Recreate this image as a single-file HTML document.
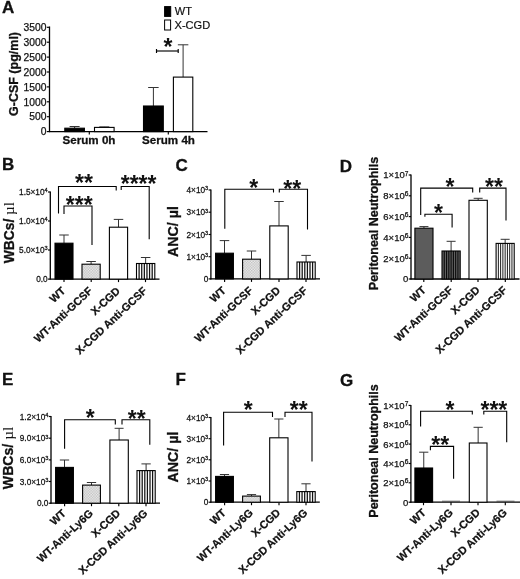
<!DOCTYPE html>
<html>
<head>
<meta charset="utf-8">
<title>Figure</title>
<style>
html, body { margin: 0; padding: 0; background: #fff; }
body { width: 520px; height: 579px; overflow: hidden; font-family: "Liberation Sans", sans-serif; }
svg { display: block; will-change: transform; }
svg text { font-family: "Liberation Sans", sans-serif; fill: #111; }
</style>
</head>
<body>
<svg width="520" height="579" viewBox="0 0 520 579">
<defs>
<pattern id="dots" width="2.7" height="2.7" patternUnits="userSpaceOnUse">
<rect width="2.7" height="2.7" fill="#f0f0f0"/>
<rect width="1.35" height="1.35" fill="#bdbdbd"/>
<rect x="1.35" y="1.35" width="1.35" height="1.35" fill="#bdbdbd"/>
</pattern>
<pattern id="vs" width="2.5" height="4" patternUnits="userSpaceOnUse">
<rect width="2.5" height="4" fill="#fff"/>
<rect x="0.6" width="1.3" height="4" fill="#151515"/>
</pattern>
<pattern id="vs2" width="2.1" height="4" patternUnits="userSpaceOnUse">
<rect width="2.1" height="4" fill="#fff"/>
<rect x="0.5" width="0.75" height="4" fill="#222"/>
</pattern>
<pattern id="vsd" width="2.3" height="4" patternUnits="userSpaceOnUse">
<rect width="2.3" height="4" fill="#666"/>
<rect x="0.8" width="1" height="4" fill="#222"/>
</pattern>
</defs>
<rect width="520" height="579" fill="#fff"/>
<text x="2" y="13.3" font-size="17" font-weight="700" text-anchor="start" stroke="#111" stroke-width="0.3">A</text>
<line x1="49.5" y1="26.5" x2="49.5" y2="132.1" stroke="#000" stroke-width="1.3"/>
<line x1="46.8" y1="27.3" x2="49.5" y2="27.3" stroke="#000" stroke-width="1.15"/>
<text x="46.5" y="31.01" font-size="10.3" text-anchor="end" stroke="#111" stroke-width="0.25">3500</text>
<line x1="46.8" y1="42.2" x2="49.5" y2="42.2" stroke="#000" stroke-width="1.15"/>
<text x="46.5" y="45.91" font-size="10.3" text-anchor="end" stroke="#111" stroke-width="0.25">3000</text>
<line x1="46.8" y1="57.1" x2="49.5" y2="57.1" stroke="#000" stroke-width="1.15"/>
<text x="46.5" y="60.81" font-size="10.3" text-anchor="end" stroke="#111" stroke-width="0.25">2500</text>
<line x1="46.8" y1="72" x2="49.5" y2="72" stroke="#000" stroke-width="1.15"/>
<text x="46.5" y="75.71" font-size="10.3" text-anchor="end" stroke="#111" stroke-width="0.25">2000</text>
<line x1="46.8" y1="86.9" x2="49.5" y2="86.9" stroke="#000" stroke-width="1.15"/>
<text x="46.5" y="90.61" font-size="10.3" text-anchor="end" stroke="#111" stroke-width="0.25">1500</text>
<line x1="46.8" y1="101.8" x2="49.5" y2="101.8" stroke="#000" stroke-width="1.15"/>
<text x="46.5" y="105.51" font-size="10.3" text-anchor="end" stroke="#111" stroke-width="0.25">1000</text>
<line x1="46.8" y1="116.7" x2="49.5" y2="116.7" stroke="#000" stroke-width="1.15"/>
<text x="46.5" y="120.41" font-size="10.3" text-anchor="end" stroke="#111" stroke-width="0.25">500</text>
<line x1="46.8" y1="131.6" x2="49.5" y2="131.6" stroke="#000" stroke-width="1.15"/>
<text x="46.5" y="135.31" font-size="10.3" text-anchor="end" stroke="#111" stroke-width="0.25">0</text>
<text transform="translate(17.5,74) rotate(-90)" font-size="12.5" font-weight="700" text-anchor="middle" stroke="#111" stroke-width="0.3">G-CSF (pg/ml)</text>
<line x1="49" y1="131.6" x2="207.5" y2="131.6" stroke="#000" stroke-width="1.3"/>
<line x1="89.3" y1="131.6" x2="89.3" y2="134.6" stroke="#000" stroke-width="1.15"/>
<line x1="168.3" y1="131.6" x2="168.3" y2="134.6" stroke="#000" stroke-width="1.15"/>
<line x1="74.6" y1="126.5" x2="74.6" y2="128.2" stroke="#333" stroke-width="1.0"/>
<line x1="69.6" y1="126.5" x2="79.6" y2="126.5" stroke="#333" stroke-width="1.0"/>
<rect x="64.8" y="128.2" width="19.6" height="3.4" fill="#000" stroke="none"/>
<rect x="64.8" y="128.2" width="19.6" height="3.4" fill="none" stroke="#000" stroke-width="1.1"/>
<line x1="104.3" y1="126.9" x2="104.3" y2="127.4" stroke="#333" stroke-width="1.0"/>
<line x1="99.3" y1="126.9" x2="109.3" y2="126.9" stroke="#333" stroke-width="1.0"/>
<rect x="94.5" y="127.4" width="19.6" height="4.2" fill="#fff" stroke="none"/>
<rect x="94.5" y="127.4" width="19.6" height="4.2" fill="none" stroke="#000" stroke-width="1.1"/>
<line x1="153.4" y1="87.5" x2="153.4" y2="106" stroke="#333" stroke-width="1.0"/>
<line x1="148.15" y1="87.5" x2="158.65" y2="87.5" stroke="#333" stroke-width="1.0"/>
<rect x="143.5" y="106" width="19.8" height="25.6" fill="#000" stroke="none"/>
<rect x="143.5" y="106" width="19.8" height="25.6" fill="none" stroke="#000" stroke-width="1.1"/>
<line x1="183.1" y1="44.8" x2="183.1" y2="77.1" stroke="#333" stroke-width="1.0"/>
<line x1="177.85" y1="44.8" x2="188.35" y2="44.8" stroke="#333" stroke-width="1.0"/>
<rect x="173.4" y="77.1" width="19.4" height="54.5" fill="#fff" stroke="none"/>
<rect x="173.4" y="77.1" width="19.4" height="54.5" fill="none" stroke="#000" stroke-width="1.1"/>
<text x="89" y="144.3" font-size="11.6" font-weight="700" text-anchor="middle" stroke="#111" stroke-width="0.3">Serum 0h</text>
<text x="168.5" y="144.3" font-size="11.6" font-weight="700" text-anchor="middle" stroke="#111" stroke-width="0.3">Serum 4h</text>
<rect x="164.6" y="6.6" width="6.1" height="9.8" fill="#000" stroke="#000"/>
<rect x="164.6" y="20" width="6" height="10" fill="#fff" stroke="#000"/>
<text x="174.8" y="14.9" font-size="11" text-anchor="start" stroke="#111" stroke-width="0.2">WT</text>
<text x="174.5" y="28.8" font-size="11.1" text-anchor="start" stroke="#111" stroke-width="0.2">X-CGD</text>
<line x1="156.5" y1="51" x2="178.2" y2="51" stroke="#000" stroke-width="1.15"/>
<line x1="156.5" y1="49" x2="156.5" y2="53" stroke="#000" stroke-width="1.15"/>
<line x1="178.2" y1="49" x2="178.2" y2="53" stroke="#000" stroke-width="1.15"/>
<text x="168" y="54.5" font-size="23" font-weight="700" text-anchor="middle">*</text>
<text x="2" y="169.5" font-size="17" font-weight="700" text-anchor="start" stroke="#111" stroke-width="0.3">B</text>
<line x1="50.3" y1="191.5" x2="50.3" y2="279.6" stroke="#000" stroke-width="1.3"/>
<line x1="48" y1="192" x2="50.3" y2="192" stroke="#000" stroke-width="1.15"/>
<g transform="translate(47.7,195.13) scale(0.95,1)"><text font-size="8.7" text-anchor="end" stroke="#111" stroke-width="0.25">1.5×10<tspan dy="-2.8" font-size="6.0">4</tspan></text></g>
<line x1="48" y1="221" x2="50.3" y2="221" stroke="#000" stroke-width="1.15"/>
<g transform="translate(47.7,224.13) scale(0.95,1)"><text font-size="8.7" text-anchor="end" stroke="#111" stroke-width="0.25">1.0×10<tspan dy="-2.8" font-size="6.0">4</tspan></text></g>
<line x1="48" y1="250" x2="50.3" y2="250" stroke="#000" stroke-width="1.15"/>
<g transform="translate(47.7,253.13) scale(0.95,1)"><text font-size="8.7" text-anchor="end" stroke="#111" stroke-width="0.25">5.0×10<tspan dy="-2.8" font-size="6.0">3</tspan></text></g>
<line x1="48" y1="279.1" x2="50.3" y2="279.1" stroke="#000" stroke-width="1.15"/>
<g transform="translate(47.7,282.23) scale(0.95,1)"><text font-size="8.7" text-anchor="end" stroke="#111" stroke-width="0.25">0.0</text></g>
<text transform="translate(13.6,232.7) rotate(-90)" font-size="13.8" font-weight="700" text-anchor="middle" stroke="#111" stroke-width="0.3">WBCs/ <tspan font-family="Liberation Serif" font-weight="400" stroke="none" font-size="15">µl</tspan></text>
<line x1="49.8" y1="279.1" x2="159.5" y2="279.1" stroke="#000" stroke-width="1.3"/>
<line x1="64" y1="279.1" x2="64" y2="282.1" stroke="#000" stroke-width="1.15"/>
<line x1="91.2" y1="279.1" x2="91.2" y2="282.1" stroke="#000" stroke-width="1.15"/>
<line x1="118.5" y1="279.1" x2="118.5" y2="282.1" stroke="#000" stroke-width="1.15"/>
<line x1="145.5" y1="279.1" x2="145.5" y2="282.1" stroke="#000" stroke-width="1.15"/>
<line x1="64" y1="235" x2="64" y2="243.2" stroke="#333" stroke-width="1.0"/>
<line x1="59.25" y1="235" x2="68.75" y2="235" stroke="#333" stroke-width="1.0"/>
<rect x="55" y="243.2" width="18" height="35.9" fill="#000" stroke="none"/>
<rect x="55" y="243.2" width="18" height="35.9" fill="none" stroke="#000" stroke-width="1.1"/>
<line x1="91.1" y1="261.5" x2="91.1" y2="264.2" stroke="#333" stroke-width="1.0"/>
<line x1="86.35" y1="261.5" x2="95.85" y2="261.5" stroke="#333" stroke-width="1.0"/>
<rect x="82" y="264.2" width="18.2" height="14.9" fill="url(#dots)" stroke="none"/>
<rect x="82" y="264.2" width="18.2" height="14.9" fill="none" stroke="#000" stroke-width="1.1"/>
<line x1="118.5" y1="219.4" x2="118.5" y2="227.2" stroke="#333" stroke-width="1.0"/>
<line x1="113.75" y1="219.4" x2="123.25" y2="219.4" stroke="#333" stroke-width="1.0"/>
<rect x="109.4" y="227.2" width="18.2" height="51.9" fill="#fff" stroke="none"/>
<rect x="109.4" y="227.2" width="18.2" height="51.9" fill="none" stroke="#000" stroke-width="1.1"/>
<line x1="145.65" y1="257.5" x2="145.65" y2="263.5" stroke="#333" stroke-width="1.0"/>
<line x1="140.9" y1="257.5" x2="150.4" y2="257.5" stroke="#333" stroke-width="1.0"/>
<rect x="136.5" y="263.5" width="18.3" height="15.6" fill="#fff" stroke="none"/>
<path d="M139.11 263.5V279.1M141.73 263.5V279.1M144.34 263.5V279.1M146.96 263.5V279.1M149.57 263.5V279.1M152.19 263.5V279.1" stroke="#111" stroke-width="1.25" fill="none"/>
<rect x="136.5" y="263.5" width="18.3" height="15.6" fill="none" stroke="#000" stroke-width="1.1"/>
<polyline points="58.5,213.5 58.5,186.5 116.2,186.5 116.2,190.4" fill="none" stroke="#000" stroke-width="1.1"/>
<text x="84" y="191" font-size="23" font-weight="700" text-anchor="middle">**</text>
<polyline points="64,214 64,206 92,206 92,245" fill="none" stroke="#000" stroke-width="1.1"/>
<text x="79.2" y="213" font-size="23" font-weight="700" text-anchor="middle">***</text>
<polyline points="121.2,190 121.2,186.5 149.2,186.5 149.2,239.3" fill="none" stroke="#000" stroke-width="1.1"/>
<text x="138.6" y="191.7" font-size="23" font-weight="700" text-anchor="middle">****</text>
<text transform="translate(66.2,291.8) rotate(-43)" font-size="10.9" font-weight="700" text-anchor="end" stroke="#111" stroke-width="0.25">WT</text>
<text transform="translate(93.2,291.8) rotate(-43)" font-size="10.9" font-weight="700" text-anchor="end" stroke="#111" stroke-width="0.25">WT-Anti-GCSF</text>
<text transform="translate(120.7,291.8) rotate(-43)" font-size="10.9" font-weight="700" text-anchor="end" stroke="#111" stroke-width="0.25">X-CGD</text>
<text transform="translate(147.7,291.8) rotate(-43)" font-size="10.9" font-weight="700" text-anchor="end" stroke="#111" stroke-width="0.25">X-CGD Anti-GCSF</text>
<text x="175.5" y="171" font-size="17" font-weight="700" text-anchor="start" stroke="#111" stroke-width="0.3">C</text>
<line x1="210.9" y1="189.5" x2="210.9" y2="279.4" stroke="#000" stroke-width="1.3"/>
<line x1="208.6" y1="190" x2="210.9" y2="190" stroke="#000" stroke-width="1.15"/>
<g transform="translate(208.3,193.13) scale(0.95,1)"><text font-size="8.7" text-anchor="end" stroke="#111" stroke-width="0.25">4×10<tspan dy="-2.8" font-size="6.0">3</tspan></text></g>
<line x1="208.6" y1="212.2" x2="210.9" y2="212.2" stroke="#000" stroke-width="1.15"/>
<g transform="translate(208.3,215.33) scale(0.95,1)"><text font-size="8.7" text-anchor="end" stroke="#111" stroke-width="0.25">3×10<tspan dy="-2.8" font-size="6.0">3</tspan></text></g>
<line x1="208.6" y1="234.5" x2="210.9" y2="234.5" stroke="#000" stroke-width="1.15"/>
<g transform="translate(208.3,237.63) scale(0.95,1)"><text font-size="8.7" text-anchor="end" stroke="#111" stroke-width="0.25">2×10<tspan dy="-2.8" font-size="6.0">3</tspan></text></g>
<line x1="208.6" y1="256.7" x2="210.9" y2="256.7" stroke="#000" stroke-width="1.15"/>
<g transform="translate(208.3,259.83) scale(0.95,1)"><text font-size="8.7" text-anchor="end" stroke="#111" stroke-width="0.25">1×10<tspan dy="-2.8" font-size="6.0">3</tspan></text></g>
<line x1="208.6" y1="278.9" x2="210.9" y2="278.9" stroke="#000" stroke-width="1.15"/>
<g transform="translate(208.3,282.03) scale(0.95,1)"><text font-size="8.7" text-anchor="end" stroke="#111" stroke-width="0.25">0</text></g>
<text transform="translate(178,231.5) rotate(-90)" font-size="14.2" font-weight="700" text-anchor="middle" stroke="#111" stroke-width="0.3">ANC/ µl</text>
<line x1="210.4" y1="278.9" x2="320" y2="278.9" stroke="#000" stroke-width="1.3"/>
<line x1="224.6" y1="278.9" x2="224.6" y2="281.9" stroke="#000" stroke-width="1.15"/>
<line x1="251.5" y1="278.9" x2="251.5" y2="281.9" stroke="#000" stroke-width="1.15"/>
<line x1="279" y1="278.9" x2="279" y2="281.9" stroke="#000" stroke-width="1.15"/>
<line x1="306" y1="278.9" x2="306" y2="281.9" stroke="#000" stroke-width="1.15"/>
<line x1="224.5" y1="240.6" x2="224.5" y2="253.2" stroke="#333" stroke-width="1.0"/>
<line x1="219.75" y1="240.6" x2="229.25" y2="240.6" stroke="#333" stroke-width="1.0"/>
<rect x="215.6" y="253.2" width="17.8" height="25.7" fill="#000" stroke="none"/>
<rect x="215.6" y="253.2" width="17.8" height="25.7" fill="none" stroke="#000" stroke-width="1.1"/>
<line x1="251.5" y1="251" x2="251.5" y2="259.2" stroke="#333" stroke-width="1.0"/>
<line x1="246.75" y1="251" x2="256.25" y2="251" stroke="#333" stroke-width="1.0"/>
<rect x="242.6" y="259.2" width="17.8" height="19.7" fill="url(#dots)" stroke="none"/>
<rect x="242.6" y="259.2" width="17.8" height="19.7" fill="none" stroke="#000" stroke-width="1.1"/>
<line x1="279" y1="201.5" x2="279" y2="225.9" stroke="#333" stroke-width="1.0"/>
<line x1="274.25" y1="201.5" x2="283.75" y2="201.5" stroke="#333" stroke-width="1.0"/>
<rect x="269.8" y="225.9" width="18.4" height="53" fill="#fff" stroke="none"/>
<rect x="269.8" y="225.9" width="18.4" height="53" fill="none" stroke="#000" stroke-width="1.1"/>
<line x1="306.1" y1="255.4" x2="306.1" y2="262" stroke="#333" stroke-width="1.0"/>
<line x1="301.35" y1="255.4" x2="310.85" y2="255.4" stroke="#333" stroke-width="1.0"/>
<rect x="297" y="262" width="18.2" height="16.9" fill="#fff" stroke="none"/>
<path d="M299.6 262V278.9M302.2 262V278.9M304.8 262V278.9M307.4 262V278.9M310 262V278.9M312.6 262V278.9" stroke="#111" stroke-width="1.25" fill="none"/>
<rect x="297" y="262" width="18.2" height="16.9" fill="none" stroke="#000" stroke-width="1.1"/>
<polyline points="224.8,228.8 224.8,189.2 273.5,189.2 273.5,192.5" fill="none" stroke="#000" stroke-width="1.1"/>
<text x="253.7" y="195.5" font-size="23" font-weight="700" text-anchor="middle">*</text>
<polyline points="279.3,192.5 279.3,189.2 307.5,189.2 307.5,229.5" fill="none" stroke="#000" stroke-width="1.1"/>
<text x="292.3" y="196.6" font-size="23" font-weight="700" text-anchor="middle">**</text>
<text transform="translate(226.5,291.5) rotate(-43)" font-size="10.9" font-weight="700" text-anchor="end" stroke="#111" stroke-width="0.25">WT</text>
<text transform="translate(253.5,291.5) rotate(-43)" font-size="10.9" font-weight="700" text-anchor="end" stroke="#111" stroke-width="0.25">WT-Anti-GCSF</text>
<text transform="translate(281,291.5) rotate(-43)" font-size="10.9" font-weight="700" text-anchor="end" stroke="#111" stroke-width="0.25">X-CGD</text>
<text transform="translate(308,291.5) rotate(-43)" font-size="10.9" font-weight="700" text-anchor="end" stroke="#111" stroke-width="0.25">X-CGD Anti-GCSF</text>
<text x="339.8" y="171.5" font-size="17" font-weight="700" text-anchor="start" stroke="#111" stroke-width="0.3">D</text>
<line x1="411" y1="174.5" x2="411" y2="279.5" stroke="#000" stroke-width="1.3"/>
<line x1="408.7" y1="175" x2="411" y2="175" stroke="#000" stroke-width="1.15"/>
<text x="408.4" y="178.42" font-size="9.5" text-anchor="end" stroke="#111" stroke-width="0.25">1×10<tspan dy="-2.8" font-size="6.6">7</tspan></text>
<line x1="408.7" y1="195.8" x2="411" y2="195.8" stroke="#000" stroke-width="1.15"/>
<text x="408.4" y="199.22" font-size="9.5" text-anchor="end" stroke="#111" stroke-width="0.25">8×10<tspan dy="-2.8" font-size="6.6">6</tspan></text>
<line x1="408.7" y1="216.6" x2="411" y2="216.6" stroke="#000" stroke-width="1.15"/>
<text x="408.4" y="220.02" font-size="9.5" text-anchor="end" stroke="#111" stroke-width="0.25">6×10<tspan dy="-2.8" font-size="6.6">6</tspan></text>
<line x1="408.7" y1="237.4" x2="411" y2="237.4" stroke="#000" stroke-width="1.15"/>
<text x="408.4" y="240.82" font-size="9.5" text-anchor="end" stroke="#111" stroke-width="0.25">4×10<tspan dy="-2.8" font-size="6.6">6</tspan></text>
<line x1="408.7" y1="258.2" x2="411" y2="258.2" stroke="#000" stroke-width="1.15"/>
<text x="408.4" y="261.62" font-size="9.5" text-anchor="end" stroke="#111" stroke-width="0.25">2×10<tspan dy="-2.8" font-size="6.6">6</tspan></text>
<line x1="408.7" y1="279" x2="411" y2="279" stroke="#000" stroke-width="1.15"/>
<text x="408.4" y="282.42" font-size="9.5" text-anchor="end" stroke="#111" stroke-width="0.25">0</text>
<text transform="translate(378,223.5) rotate(-90)" font-size="12.5" font-weight="700" text-anchor="middle" stroke="#111" stroke-width="0.3">Peritoneal Neutrophils</text>
<line x1="410.5" y1="279" x2="519.5" y2="279" stroke="#000" stroke-width="1.3"/>
<line x1="423.8" y1="279" x2="423.8" y2="282" stroke="#000" stroke-width="1.15"/>
<line x1="451.2" y1="279" x2="451.2" y2="282" stroke="#000" stroke-width="1.15"/>
<line x1="478" y1="279" x2="478" y2="282" stroke="#000" stroke-width="1.15"/>
<line x1="505.3" y1="279" x2="505.3" y2="282" stroke="#000" stroke-width="1.15"/>
<line x1="423.95" y1="226.6" x2="423.95" y2="228.2" stroke="#333" stroke-width="1.0"/>
<line x1="419.45" y1="226.6" x2="428.45" y2="226.6" stroke="#333" stroke-width="1.0"/>
<rect x="414.9" y="228.2" width="18.1" height="50.8" fill="#5c5c5c" stroke="none"/>
<rect x="414.9" y="228.2" width="18.1" height="50.8" fill="none" stroke="#000" stroke-width="1.1"/>
<line x1="451.1" y1="241.3" x2="451.1" y2="251" stroke="#333" stroke-width="1.0"/>
<line x1="446.6" y1="241.3" x2="455.6" y2="241.3" stroke="#333" stroke-width="1.0"/>
<rect x="442" y="251" width="18.2" height="28" fill="#606060" stroke="none"/>
<path d="M444.27 251V279M446.55 251V279M448.82 251V279M451.1 251V279M453.38 251V279M455.65 251V279M457.93 251V279" stroke="#0a0a0a" stroke-width="1.1" fill="none"/>
<rect x="442" y="251" width="18.2" height="28" fill="none" stroke="#000" stroke-width="1.1"/>
<line x1="478.15" y1="198.3" x2="478.15" y2="200.3" stroke="#333" stroke-width="1.0"/>
<line x1="473.65" y1="198.3" x2="482.65" y2="198.3" stroke="#333" stroke-width="1.0"/>
<rect x="469" y="200.3" width="18.3" height="78.7" fill="#fff" stroke="none"/>
<rect x="469" y="200.3" width="18.3" height="78.7" fill="none" stroke="#000" stroke-width="1.1"/>
<line x1="505.15" y1="239.3" x2="505.15" y2="243.4" stroke="#333" stroke-width="1.0"/>
<line x1="500.65" y1="239.3" x2="509.65" y2="239.3" stroke="#333" stroke-width="1.0"/>
<rect x="496.1" y="243.4" width="18.1" height="35.6" fill="#fff" stroke="none"/>
<path d="M498.36 243.4V279M500.62 243.4V279M502.89 243.4V279M505.15 243.4V279M507.41 243.4V279M509.68 243.4V279M511.94 243.4V279" stroke="#000" stroke-width="0.9" fill="none"/>
<rect x="496.1" y="243.4" width="18.1" height="35.6" fill="none" stroke="#000" stroke-width="1.1"/>
<polyline points="420.7,215 420.7,188.1 472.7,188.1 472.7,192.5" fill="none" stroke="#000" stroke-width="1.1"/>
<text x="450" y="195" font-size="23" font-weight="700" text-anchor="middle">*</text>
<polyline points="424.9,216.8 424.9,214.3 452.1,214.3 452.1,227.4" fill="none" stroke="#000" stroke-width="1.1"/>
<text x="438.6" y="220.7" font-size="23" font-weight="700" text-anchor="middle">*</text>
<polyline points="479.7,192.5 479.7,188.1 506,188.1 506,220.4" fill="none" stroke="#000" stroke-width="1.1"/>
<text x="493.9" y="194.5" font-size="23" font-weight="700" text-anchor="middle">**</text>
<text transform="translate(426.6,291) rotate(-43)" font-size="10.9" font-weight="700" text-anchor="end" stroke="#111" stroke-width="0.25">WT</text>
<text transform="translate(453.6,291) rotate(-43)" font-size="10.9" font-weight="700" text-anchor="end" stroke="#111" stroke-width="0.25">WT-Anti-GCSF</text>
<text transform="translate(480.6,291) rotate(-43)" font-size="10.9" font-weight="700" text-anchor="end" stroke="#111" stroke-width="0.25">X-CGD</text>
<text transform="translate(507.6,291) rotate(-43)" font-size="10.9" font-weight="700" text-anchor="end" stroke="#111" stroke-width="0.25">X-CGD Anti-GCSF</text>
<text x="2" y="385" font-size="17" font-weight="700" text-anchor="start" stroke="#111" stroke-width="0.3">E</text>
<line x1="51" y1="416" x2="51" y2="503.7" stroke="#000" stroke-width="1.3"/>
<line x1="48.7" y1="416.5" x2="51" y2="416.5" stroke="#000" stroke-width="1.15"/>
<g transform="translate(48.4,419.63) scale(0.95,1)"><text font-size="8.7" text-anchor="end" stroke="#111" stroke-width="0.25">1.2×10<tspan dy="-2.8" font-size="6.0">4</tspan></text></g>
<line x1="48.7" y1="438.2" x2="51" y2="438.2" stroke="#000" stroke-width="1.15"/>
<g transform="translate(48.4,441.33) scale(0.95,1)"><text font-size="8.7" text-anchor="end" stroke="#111" stroke-width="0.25">9.0×10<tspan dy="-2.8" font-size="6.0">3</tspan></text></g>
<line x1="48.7" y1="459.9" x2="51" y2="459.9" stroke="#000" stroke-width="1.15"/>
<g transform="translate(48.4,463.03) scale(0.95,1)"><text font-size="8.7" text-anchor="end" stroke="#111" stroke-width="0.25">6.0×10<tspan dy="-2.8" font-size="6.0">3</tspan></text></g>
<line x1="48.7" y1="481.5" x2="51" y2="481.5" stroke="#000" stroke-width="1.15"/>
<g transform="translate(48.4,484.63) scale(0.95,1)"><text font-size="8.7" text-anchor="end" stroke="#111" stroke-width="0.25">3.0×10<tspan dy="-2.8" font-size="6.0">3</tspan></text></g>
<line x1="48.7" y1="503.2" x2="51" y2="503.2" stroke="#000" stroke-width="1.15"/>
<g transform="translate(48.4,506.33) scale(0.95,1)"><text font-size="8.7" text-anchor="end" stroke="#111" stroke-width="0.25">0.0</text></g>
<text transform="translate(13.2,458) rotate(-90)" font-size="14.1" font-weight="700" text-anchor="middle" stroke="#111" stroke-width="0.3">WBCs/ <tspan font-family="Liberation Serif" font-weight="400" stroke="none" font-size="15.2">µl</tspan></text>
<line x1="50.5" y1="503.2" x2="160" y2="503.2" stroke="#000" stroke-width="1.3"/>
<line x1="64.6" y1="503.2" x2="64.6" y2="506.2" stroke="#000" stroke-width="1.15"/>
<line x1="91.5" y1="503.2" x2="91.5" y2="506.2" stroke="#000" stroke-width="1.15"/>
<line x1="118.8" y1="503.2" x2="118.8" y2="506.2" stroke="#000" stroke-width="1.15"/>
<line x1="146" y1="503.2" x2="146" y2="506.2" stroke="#000" stroke-width="1.15"/>
<line x1="64.5" y1="460" x2="64.5" y2="467.4" stroke="#333" stroke-width="1.0"/>
<line x1="59.85" y1="460" x2="69.15" y2="460" stroke="#333" stroke-width="1.0"/>
<rect x="55.6" y="467.4" width="17.8" height="35.8" fill="#000" stroke="none"/>
<rect x="55.6" y="467.4" width="17.8" height="35.8" fill="none" stroke="#000" stroke-width="1.1"/>
<line x1="91.5" y1="482.5" x2="91.5" y2="485.1" stroke="#333" stroke-width="1.0"/>
<line x1="86.85" y1="482.5" x2="96.15" y2="482.5" stroke="#333" stroke-width="1.0"/>
<rect x="82.6" y="485.1" width="17.8" height="18.1" fill="url(#dots)" stroke="none"/>
<rect x="82.6" y="485.1" width="17.8" height="18.1" fill="none" stroke="#000" stroke-width="1.1"/>
<line x1="119.1" y1="428.3" x2="119.1" y2="440" stroke="#333" stroke-width="1.0"/>
<line x1="114.6" y1="428.3" x2="123.6" y2="428.3" stroke="#333" stroke-width="1.0"/>
<rect x="109.9" y="440" width="18.4" height="63.2" fill="#fff" stroke="none"/>
<rect x="109.9" y="440" width="18.4" height="63.2" fill="none" stroke="#000" stroke-width="1.1"/>
<line x1="146.1" y1="463.9" x2="146.1" y2="470.6" stroke="#333" stroke-width="1.0"/>
<line x1="141.45" y1="463.9" x2="150.75" y2="463.9" stroke="#333" stroke-width="1.0"/>
<rect x="137" y="470.6" width="18.2" height="32.6" fill="#fff" stroke="none"/>
<path d="M139.6 470.6V503.2M142.2 470.6V503.2M144.8 470.6V503.2M147.4 470.6V503.2M150 470.6V503.2M152.6 470.6V503.2" stroke="#111" stroke-width="1.25" fill="none"/>
<rect x="137" y="470.6" width="18.2" height="32.6" fill="none" stroke="#000" stroke-width="1.1"/>
<polyline points="64.6,448.7 64.6,419.7 115.3,419.7 115.3,424.5" fill="none" stroke="#000" stroke-width="1.1"/>
<text x="90.3" y="426" font-size="23" font-weight="700" text-anchor="middle">*</text>
<polyline points="122,424.5 122,419.7 149.8,419.7 149.8,444.8" fill="none" stroke="#000" stroke-width="1.1"/>
<text x="136.8" y="427.2" font-size="23" font-weight="700" text-anchor="middle">**</text>
<text transform="translate(66.6,514.1) rotate(-43)" font-size="10.9" font-weight="700" text-anchor="end" stroke="#111" stroke-width="0.25">WT</text>
<text transform="translate(93.6,514.1) rotate(-43)" font-size="10.9" font-weight="700" text-anchor="end" stroke="#111" stroke-width="0.25">WT-Anti-Ly6G</text>
<text transform="translate(121.1,514.1) rotate(-43)" font-size="10.9" font-weight="700" text-anchor="end" stroke="#111" stroke-width="0.25">X-CGD</text>
<text transform="translate(148.1,514.1) rotate(-43)" font-size="10.9" font-weight="700" text-anchor="end" stroke="#111" stroke-width="0.25">X-CGD Anti-Ly6G</text>
<text x="175.5" y="385" font-size="17" font-weight="700" text-anchor="start" stroke="#111" stroke-width="0.3">F</text>
<line x1="210.9" y1="417" x2="210.9" y2="502.7" stroke="#000" stroke-width="1.3"/>
<line x1="208.6" y1="417.5" x2="210.9" y2="417.5" stroke="#000" stroke-width="1.15"/>
<g transform="translate(208.3,420.63) scale(0.95,1)"><text font-size="8.7" text-anchor="end" stroke="#111" stroke-width="0.25">4×10<tspan dy="-2.8" font-size="6.0">3</tspan></text></g>
<line x1="208.6" y1="438.7" x2="210.9" y2="438.7" stroke="#000" stroke-width="1.15"/>
<g transform="translate(208.3,441.83) scale(0.95,1)"><text font-size="8.7" text-anchor="end" stroke="#111" stroke-width="0.25">3×10<tspan dy="-2.8" font-size="6.0">3</tspan></text></g>
<line x1="208.6" y1="459.8" x2="210.9" y2="459.8" stroke="#000" stroke-width="1.15"/>
<g transform="translate(208.3,462.93) scale(0.95,1)"><text font-size="8.7" text-anchor="end" stroke="#111" stroke-width="0.25">2×10<tspan dy="-2.8" font-size="6.0">3</tspan></text></g>
<line x1="208.6" y1="481" x2="210.9" y2="481" stroke="#000" stroke-width="1.15"/>
<g transform="translate(208.3,484.13) scale(0.95,1)"><text font-size="8.7" text-anchor="end" stroke="#111" stroke-width="0.25">1×10<tspan dy="-2.8" font-size="6.0">3</tspan></text></g>
<line x1="208.6" y1="502.2" x2="210.9" y2="502.2" stroke="#000" stroke-width="1.15"/>
<g transform="translate(208.3,505.33) scale(0.95,1)"><text font-size="8.7" text-anchor="end" stroke="#111" stroke-width="0.25">0</text></g>
<text transform="translate(178,457) rotate(-90)" font-size="14.2" font-weight="700" text-anchor="middle" stroke="#111" stroke-width="0.3">ANC/ µl</text>
<line x1="210.4" y1="502.2" x2="319.8" y2="502.2" stroke="#000" stroke-width="1.3"/>
<line x1="224.6" y1="502.2" x2="224.6" y2="505.2" stroke="#000" stroke-width="1.15"/>
<line x1="251.5" y1="502.2" x2="251.5" y2="505.2" stroke="#000" stroke-width="1.15"/>
<line x1="279" y1="502.2" x2="279" y2="505.2" stroke="#000" stroke-width="1.15"/>
<line x1="306" y1="502.2" x2="306" y2="505.2" stroke="#000" stroke-width="1.15"/>
<line x1="224.5" y1="474.5" x2="224.5" y2="476.4" stroke="#333" stroke-width="1.0"/>
<line x1="219.9" y1="474.5" x2="229.1" y2="474.5" stroke="#333" stroke-width="1.0"/>
<rect x="215.6" y="476.4" width="17.8" height="25.8" fill="#000" stroke="none"/>
<rect x="215.6" y="476.4" width="17.8" height="25.8" fill="none" stroke="#000" stroke-width="1.1"/>
<line x1="251.5" y1="494.6" x2="251.5" y2="496.1" stroke="#333" stroke-width="1.0"/>
<line x1="246.9" y1="494.6" x2="256.1" y2="494.6" stroke="#333" stroke-width="1.0"/>
<rect x="242.6" y="496.1" width="17.8" height="6.1" fill="url(#dots)" stroke="none"/>
<rect x="242.6" y="496.1" width="17.8" height="6.1" fill="none" stroke="#000" stroke-width="1.1"/>
<line x1="278.85" y1="419" x2="278.85" y2="437.8" stroke="#333" stroke-width="1.0"/>
<line x1="274.25" y1="419" x2="283.45" y2="419" stroke="#333" stroke-width="1.0"/>
<rect x="269.7" y="437.8" width="18.3" height="64.4" fill="#fff" stroke="none"/>
<rect x="269.7" y="437.8" width="18.3" height="64.4" fill="none" stroke="#000" stroke-width="1.1"/>
<line x1="306" y1="483.8" x2="306" y2="491.6" stroke="#333" stroke-width="1.0"/>
<line x1="301.4" y1="483.8" x2="310.6" y2="483.8" stroke="#333" stroke-width="1.0"/>
<rect x="296.8" y="491.6" width="18.4" height="10.6" fill="#fff" stroke="none"/>
<path d="M299.43 491.6V502.2M302.06 491.6V502.2M304.69 491.6V502.2M307.31 491.6V502.2M309.94 491.6V502.2M312.57 491.6V502.2" stroke="#111" stroke-width="1.25" fill="none"/>
<rect x="296.8" y="491.6" width="18.4" height="10.6" fill="none" stroke="#000" stroke-width="1.1"/>
<polyline points="223.6,445.5 223.6,412.2 272.5,412.2 272.5,417" fill="none" stroke="#000" stroke-width="1.1"/>
<text x="248.2" y="418.4" font-size="23" font-weight="700" text-anchor="middle">*</text>
<polyline points="285,417 285,412.2 312,412.2 312,461.6" fill="none" stroke="#000" stroke-width="1.1"/>
<text x="298.7" y="418.2" font-size="23" font-weight="700" text-anchor="middle">**</text>
<text transform="translate(226.6,513.6) rotate(-43)" font-size="10.9" font-weight="700" text-anchor="end" stroke="#111" stroke-width="0.25">WT</text>
<text transform="translate(253.6,513.6) rotate(-43)" font-size="10.9" font-weight="700" text-anchor="end" stroke="#111" stroke-width="0.25">WT-Anti-Ly6G</text>
<text transform="translate(281.1,513.6) rotate(-43)" font-size="10.9" font-weight="700" text-anchor="end" stroke="#111" stroke-width="0.25">X-CGD</text>
<text transform="translate(308.1,513.6) rotate(-43)" font-size="10.9" font-weight="700" text-anchor="end" stroke="#111" stroke-width="0.25">X-CGD Anti-Ly6G</text>
<text x="340" y="386" font-size="17" font-weight="700" text-anchor="start" stroke="#111" stroke-width="0.3">G</text>
<line x1="410.9" y1="404.9" x2="410.9" y2="502.7" stroke="#000" stroke-width="1.3"/>
<line x1="408.6" y1="405.4" x2="410.9" y2="405.4" stroke="#000" stroke-width="1.15"/>
<text x="408.3" y="408.82" font-size="9.5" text-anchor="end" stroke="#111" stroke-width="0.25">1×10<tspan dy="-2.8" font-size="6.6">7</tspan></text>
<line x1="408.6" y1="424.8" x2="410.9" y2="424.8" stroke="#000" stroke-width="1.15"/>
<text x="408.3" y="428.22" font-size="9.5" text-anchor="end" stroke="#111" stroke-width="0.25">8×10<tspan dy="-2.8" font-size="6.6">6</tspan></text>
<line x1="408.6" y1="444.1" x2="410.9" y2="444.1" stroke="#000" stroke-width="1.15"/>
<text x="408.3" y="447.52" font-size="9.5" text-anchor="end" stroke="#111" stroke-width="0.25">6×10<tspan dy="-2.8" font-size="6.6">6</tspan></text>
<line x1="408.6" y1="463.5" x2="410.9" y2="463.5" stroke="#000" stroke-width="1.15"/>
<text x="408.3" y="466.92" font-size="9.5" text-anchor="end" stroke="#111" stroke-width="0.25">4×10<tspan dy="-2.8" font-size="6.6">6</tspan></text>
<line x1="408.6" y1="482.8" x2="410.9" y2="482.8" stroke="#000" stroke-width="1.15"/>
<text x="408.3" y="486.22" font-size="9.5" text-anchor="end" stroke="#111" stroke-width="0.25">2×10<tspan dy="-2.8" font-size="6.6">6</tspan></text>
<line x1="408.6" y1="502.2" x2="410.9" y2="502.2" stroke="#000" stroke-width="1.15"/>
<text x="408.3" y="505.62" font-size="9.5" text-anchor="end" stroke="#111" stroke-width="0.25">0</text>
<text transform="translate(378,451) rotate(-90)" font-size="12.5" font-weight="700" text-anchor="middle" stroke="#111" stroke-width="0.3">Peritoneal Neutrophils</text>
<line x1="410.4" y1="502.2" x2="520" y2="502.2" stroke="#000" stroke-width="1.3"/>
<line x1="423.5" y1="502.2" x2="423.5" y2="505.2" stroke="#000" stroke-width="1.15"/>
<line x1="451" y1="502.2" x2="451" y2="505.2" stroke="#000" stroke-width="1.15"/>
<line x1="478" y1="502.2" x2="478" y2="505.2" stroke="#000" stroke-width="1.15"/>
<line x1="505.3" y1="502.2" x2="505.3" y2="505.2" stroke="#000" stroke-width="1.15"/>
<line x1="423.75" y1="452.2" x2="423.75" y2="468" stroke="#333" stroke-width="1.0"/>
<line x1="419.15" y1="452.2" x2="428.35" y2="452.2" stroke="#333" stroke-width="1.0"/>
<rect x="414.9" y="468" width="17.7" height="34.2" fill="#000" stroke="none"/>
<rect x="414.9" y="468" width="17.7" height="34.2" fill="none" stroke="#000" stroke-width="1.1"/>
<line x1="442" y1="501.2" x2="460" y2="501.2" stroke="#444" stroke-width="0.8"/>
<line x1="478.15" y1="427.3" x2="478.15" y2="443" stroke="#333" stroke-width="1.0"/>
<line x1="473.55" y1="427.3" x2="482.75" y2="427.3" stroke="#333" stroke-width="1.0"/>
<rect x="469.3" y="443" width="17.7" height="59.2" fill="#fff" stroke="none"/>
<rect x="469.3" y="443" width="17.7" height="59.2" fill="none" stroke="#000" stroke-width="1.1"/>
<line x1="496.5" y1="501.2" x2="514.5" y2="501.2" stroke="#444" stroke-width="0.8"/>
<polyline points="420.6,426.4 420.6,411.2 472.3,411.2 472.3,414.6" fill="none" stroke="#000" stroke-width="1.1"/>
<text x="450" y="418" font-size="23" font-weight="700" text-anchor="middle">*</text>
<polyline points="430.4,450.2 430.4,446.4 453.6,446.4 453.6,478.8" fill="none" stroke="#000" stroke-width="1.1"/>
<text x="440.3" y="452.9" font-size="23" font-weight="700" text-anchor="middle">**</text>
<polyline points="483.8,414.6 483.8,411.2 506.7,411.2 506.7,442.3" fill="none" stroke="#000" stroke-width="1.1"/>
<text x="493.9" y="417.5" font-size="23" font-weight="700" text-anchor="middle">***</text>
<text transform="translate(426.7,513.5) rotate(-43)" font-size="10.9" font-weight="700" text-anchor="end" stroke="#111" stroke-width="0.25">WT</text>
<text transform="translate(453.7,513.5) rotate(-43)" font-size="10.9" font-weight="700" text-anchor="end" stroke="#111" stroke-width="0.25">WT-Anti-Ly6G</text>
<text transform="translate(480.7,513.5) rotate(-43)" font-size="10.9" font-weight="700" text-anchor="end" stroke="#111" stroke-width="0.25">X-CGD</text>
<text transform="translate(507.7,513.5) rotate(-43)" font-size="10.9" font-weight="700" text-anchor="end" stroke="#111" stroke-width="0.25">X-CGD Anti-Ly6G</text>
</svg>
</body>
</html>
